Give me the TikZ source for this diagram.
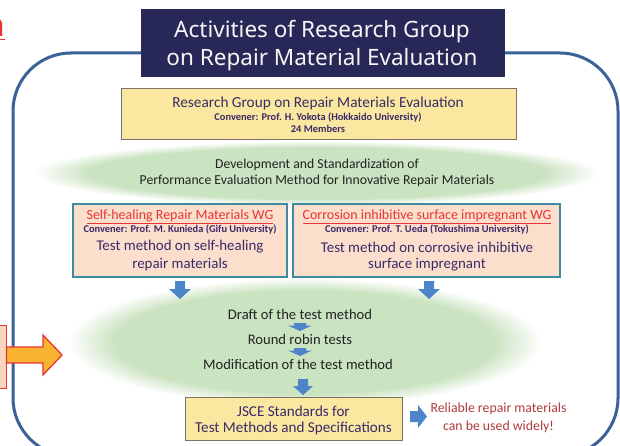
\documentclass[tikz,border=0pt]{standalone}
\usepackage{fontspec}
\setmainfont{Carlito}
\newfontfamily\headfont{Noto Sans}
\usetikzlibrary{fadings}

\definecolor{frameblue}{RGB}{58,98,150}
\definecolor{navy}{RGB}{40,40,88}
\definecolor{butter}{RGB}{251,232,160}
\definecolor{butteredge}{RGB}{125,112,100}
\definecolor{peach}{RGB}{251,222,204}
\definecolor{tealedge}{RGB}{62,138,158}
\definecolor{ink}{RGB}{58,42,104}
\definecolor{wgred}{RGB}{232,52,52}
\definecolor{leaf}{RGB}{202,227,192}
\definecolor{arrowblue}{RGB}{78,132,202}
\definecolor{wine}{RGB}{175,58,58}
\definecolor{amber}{RGB}{250,180,50}
\definecolor{darktext}{RGB}{35,35,35}
\definecolor{sidepeach}{RGB}{250,214,190}

\tikzset{
  frameline/.style={draw=frameblue, line width=3pt},
  titlebox/.style={fill=navy, minimum width=364pt, minimum height=68pt, inner sep=0pt},
  titletext/.style={text=white!92!gray, inner sep=0pt, font=\headfont\fontsize{22.5}{26}\selectfont},
  yellowbox/.style={fill=butter, draw=butteredge, line width=1pt, inner sep=0pt},
  wgbox/.style={fill=peach, draw=tealedge, line width=1.4pt, inner sep=0pt, minimum height=73pt},
  cloud/.style={fill=leaf, path fading=circle with fuzzy edge 20 percent},
  txt/.style={inner sep=0pt, text=ink},
  devtext/.style={txt, text=darktext, font=\fontsize{13.7}{16}\selectfont},
  convener/.style={txt, font=\fontsize{10.4}{12}\selectfont\bfseries},
  wgtitle/.style={txt, text=wgred, font=\fontsize{14}{16}\selectfont},
  wgmain/.style={txt, font=\fontsize{14.9}{17}\selectfont},
  steptext/.style={txt, text=darktext, font=\fontsize{14.6}{17}\selectfont},
  usetext/.style={txt, text=wine, font=\fontsize{13.8}{16}\selectfont},
  blockarrow/.style={fill=arrowblue},
}

\begin{document}
\begin{tikzpicture}[x=1pt, y=-1pt]
\useasboundingbox (0,0) rectangle (620,446);
\clip (0,0) rectangle (620,446);

% outer rounded frame
\draw[frameline, rounded corners=58pt] (13,53) rectangle (618,456);

% partial heading letter at the top left
\node[anchor=base east, inner sep=0pt, text=wgred, font=\fontsize{36}{36}\selectfont\bfseries] (hd) at (4.5,37) {n};
\draw[wgred, line width=1.6pt] ([yshift=-2.2pt]hd.south west) -- ([yshift=-2.2pt,xshift=0.8pt]hd.south east);

% title
\node[titlebox] (title) at (323,43) {};
\node[titletext] (title1) at (322,32) {Activities of Research Group};
\node[titletext] (title2) at (322,60) {on Repair Material Evaluation};

% research group box
\node[yellowbox, minimum width=395pt, minimum height=51pt] (group) at (318.5,114.5) {};
\node[txt, font=\fontsize{15.3}{17}\selectfont] (group1) at (318,103) {Research Group on Repair Materials Evaluation};
\node[convener] (group2) at (318,117) {Convener: Prof. H. Yokota (Hokkaido University)};
\node[convener] (group3) at (318,128.5) {24 Members};

% development band
\fill[cloud] (317,173) ellipse (282pt and 32pt);
\node[devtext] (dev1) at (317,164.5) {Development and Standardization of};
\node[devtext] (dev2) at (317,180.5) {Performance Evaluation Method for Innovative Repair Materials};

% working groups
\node[wgbox, minimum width=214pt] (wg1) at (180,240.5) {};
\node[wgtitle] (wg1t) at (180,217) {\underline{Self-healing Repair Materials WG}};
\node[convener] (wg1c) at (180,229.5) {Convener: Prof. M. Kunieda (Gifu University)};
\node[wgmain] (wg1a) at (180,247) {Test method on self-healing};
\node[wgmain] (wg1b) at (180,265) {repair materials};

\node[wgbox, minimum width=267pt] (wg2) at (426.5,240.5) {};
\node[wgtitle] (wg2t) at (427,217) {\underline{Corrosion inhibitive surface impregnant WG}};
\node[convener] (wg2c) at (427,229.5) {Convener: Prof. T. Ueda (Tokushima University)};
\node[wgmain] (wg2a) at (427,247) {Test method on corrosive inhibitive};
\node[wgmain] (wg2b) at (427,265) {surface impregnant};

% standardization process
\fill[cloud] (305,342) ellipse (236pt and 64pt);
\node[steptext] (draft) at (300,314) {Draft of the test method};
\node[steptext] (robin) at (300,339) {Round robin tests};
\node[steptext] (modif) at (298,364) {Modification of the test method};

% JSCE standards
\node[yellowbox, minimum width=217pt, minimum height=43pt] (jsce) at (293.5,418.5) {};
\node[txt, font=\fontsize{15.1}{17}\selectfont] (jsce1) at (293.5,411) {JSCE Standards for};
\node[txt, font=\fontsize{15.1}{17}\selectfont] (jsce2) at (293.5,428) {Test Methods and Specifications};
\node[usetext] (use1) at (498.5,409) {Reliable repair materials};
\node[usetext] (use2) at (498.5,427) {can be used widely!};

% block arrows (shapes given in local coordinates, y pointing down)
\coordinate (a1) at (180,281);
\coordinate (a2) at (429,281);
\coordinate (a3) at (300,323);
\coordinate (a4) at (300,348);
\coordinate (a5) at (303,379);
\coordinate (a6) at (410,416.5);
\fill[blockarrow, shift={(a1)}] (-5,0) -- (5,0) -- (5,8) -- (11,8) -- (0,18) -- (-11,8) -- (-5,8) -- cycle;
\fill[blockarrow, shift={(a2)}] (-5,0) -- (5,0) -- (5,8) -- (11,8) -- (0,18) -- (-11,8) -- (-5,8) -- cycle;
\fill[blockarrow, shift={(a3)}] (-6,0) -- (6,0) -- (6,2.5) -- (12,2.5) -- (0,8) -- (-12,2.5) -- (-6,2.5) -- cycle;
\fill[blockarrow, shift={(a4)}] (-6,0) -- (6,0) -- (6,2.5) -- (12,2.5) -- (0,8) -- (-12,2.5) -- (-6,2.5) -- cycle;
\fill[blockarrow, shift={(a5)}] (-5,0) -- (5,0) -- (5,7) -- (10,7) -- (0,16) -- (-10,7) -- (-5,7) -- cycle;
\fill[blockarrow, shift={(a6)}] (0,-5.5) -- (8,-5.5) -- (8,-11.5) -- (17,0) -- (8,11.5) -- (8,5.5) -- (0,5.5) -- cycle;

% side box and orange arrow at the left edge
\node[fill=sidepeach, draw=wgred, line width=1pt, minimum width=14pt, minimum height=63pt, inner sep=0pt] (side) at (-1,357) {};
\coordinate (tip) at (62,355);
\filldraw[fill=amber, draw=wgred, line width=1.3pt] (side.east |- 0,347) -- (43,347) -- (43,335) -- (tip) -- (43,375) -- (43,363) -- (side.east |- 0,363) -- cycle;
\end{tikzpicture}
\end{document}
